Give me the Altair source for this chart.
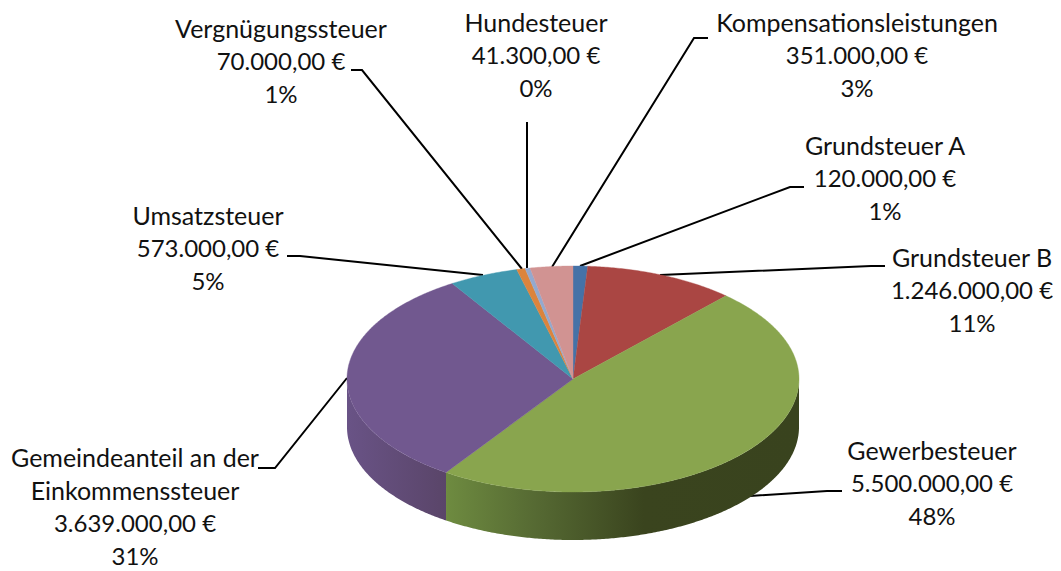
import math
import altair as alt

# ---- data ----
names = ["Grundsteuer A", "Grundsteuer B", "Gewerbesteuer", "Gemeindeanteil an der Einkommenssteuer",
         "Umsatzsteuer", "Vergnügungssteuer", "Hundesteuer", "Kompensationsleistungen"]
values = [120000, 1246000, 5500000, 3639000, 573000, 70000, 41300, 351000]
value_labels = ["120.000,00 €", "1.246.000,00 €", "5.500.000,00 €", "3.639.000,00 €",
                "573.000,00 €", "70.000,00 €", "41.300,00 €", "351.000,00 €"]
percents = ["1%", "11%", "48%", "31%", "5%", "1%", "0%", "3%"]
colors = ["#4572A7", "#AA4643", "#89A54E", "#71588F", "#4198AF", "#DB843D", "#93A9CF", "#D19392"]

# ---- layout (page pixels) ----
OX, OY = 8, 8
CX, CY, RX, RY, DEPTH = 573, 379, 226, 113, 48
label_pos = {
    "Grundsteuer A": (885, 147), "Grundsteuer B": (972, 259), "Gewerbesteuer": (932, 452),
    "Gemeindeanteil an der Einkommenssteuer": (135, 459), "Umsatzsteuer": (208, 217),
    "Vergnügungssteuer": (281, 30), "Hundesteuer": (536, 24), "Kompensationsleistungen": (857, 24),
}
leaders = {
    "Grundsteuer A": [(804, 187), (790, 187), (580, 266)],
    "Grundsteuer B": [(885, 266), (871, 266), (660, 275)],
    "Gewerbesteuer": [(842, 491), (827, 491), (750, 496)],
    "Gemeindeanteil an der Einkommenssteuer": [(258, 468), (275, 468), (347, 378)],
    "Umsatzsteuer": [(287, 256), (300, 256), (483, 275)],
    "Vergnügungssteuer": [(351, 70), (362, 70), (522, 269)],
    "Hundesteuer": [(527, 122), (527, 268)],
    "Kompensationsleistungen": [(708, 38), (694, 38), (552, 267)],
}
LINE_H = 33


def pt(deg, dy=0.0):
    a = math.radians(deg)
    return [CX - OX + RX * math.sin(a), CY - OY - RY * math.cos(a) + dy]


def arc(a0, a1, dy=0.0):
    n = max(2, int(abs(a1 - a0) * 2))
    return [pt(a0 + (a1 - a0) * i / n, dy) for i in range(n + 1)]


def feature(name, ring):
    return {"type": "Feature", "properties": {"name": name},
            "geometry": {"type": "Polygon", "coordinates": [ring + [ring[0]]]}}


total = sum(values)
edges = [0.0]
for v in values:
    edges.append(edges[-1] + v / total * 360)

tops = [feature(n, [[CX - OX, CY - OY]] + arc(edges[i], edges[i + 1])) for i, n in enumerate(names)]


def wall(i, a0=90.0, a1=270.0):
    lo, hi = max(edges[i], a0), min(edges[i + 1], a1)
    return feature(names[i], arc(lo, hi) + arc(hi, lo, DEPTH))


proj = dict(type="identity", scale=1, translate=[0, 0])

green_wall = alt.Chart(alt.InlineData(values=[wall(2)])).mark_geoshape(
    strokeWidth=0,
    fill=alt.LinearGradient(gradient="linear", x1=0, x2=1, y1=0, y2=0, stops=[
        alt.GradientStop(offset=0, color="#6E8B40"),
        alt.GradientStop(offset=0.25, color="#566A33"),
        alt.GradientStop(offset=0.56, color="#3A441E"),
        alt.GradientStop(offset=1, color="#39431E"),
    ])).project(**proj)
purple_wall = alt.Chart(alt.InlineData(values=[wall(3)])).mark_geoshape(
    strokeWidth=0,
    fill=alt.LinearGradient(gradient="linear", x1=0, x2=1, y1=0, y2=0, stops=[
        alt.GradientStop(offset=0, color="#695386"),
        alt.GradientStop(offset=1, color="#5A4569"),
    ])).project(**proj)
top = alt.Chart(alt.InlineData(values=tops)).mark_geoshape(strokeWidth=0.4).encode(
    fill=alt.Fill("properties.name:N", scale=alt.Scale(domain=names, range=colors), legend=None),
    stroke=alt.Stroke("properties.name:N", scale=alt.Scale(domain=names, range=colors), legend=None),
).project(**proj)

line_rows = []
for n, pts in leaders.items():
    for k, (x, y) in enumerate(pts):
        line_rows.append({"n": n, "k": k, "x": x - OX, "y": y - OY})
lines = alt.Chart(alt.Data(values=line_rows)).mark_line(color="black", strokeWidth=2).encode(
    x=alt.X("x:Q", scale=None, axis=None), y=alt.Y("y:Q", scale=None, axis=None),
    detail="n:N", order="k:Q")

name_rows, num_rows = [], []
for n, v, p in zip(names, value_labels, percents):
    x, y = label_pos[n]
    parts = ["Gemeindeanteil an der", "Einkommenssteuer"] if n.startswith("Gemeinde") else [n]
    for k, t in enumerate(parts + [v, p]):
        row = {"t": t, "x": x - OX, "y": y - OY + k * LINE_H}
        (name_rows if k < len(parts) else num_rows).append(row)


def text_layer(rows, size):
    return alt.Chart(alt.Data(values=rows)).mark_text(
        font="Lato", fontSize=size, color="#111111", align="center", baseline="middle").encode(
        x=alt.X("x:Q", scale=None, axis=None), y=alt.Y("y:Q", scale=None, axis=None), text="t:N")


chart = alt.layer(lines, green_wall, purple_wall, top, text_layer(name_rows, 25), text_layer(num_rows, 24)).properties(
    width=1045, height=563, padding=0, autosize="none", background="white"
).configure_view(stroke=None)

chart.save("out.html", embed_options={"renderer": "svg", "actions": False})
